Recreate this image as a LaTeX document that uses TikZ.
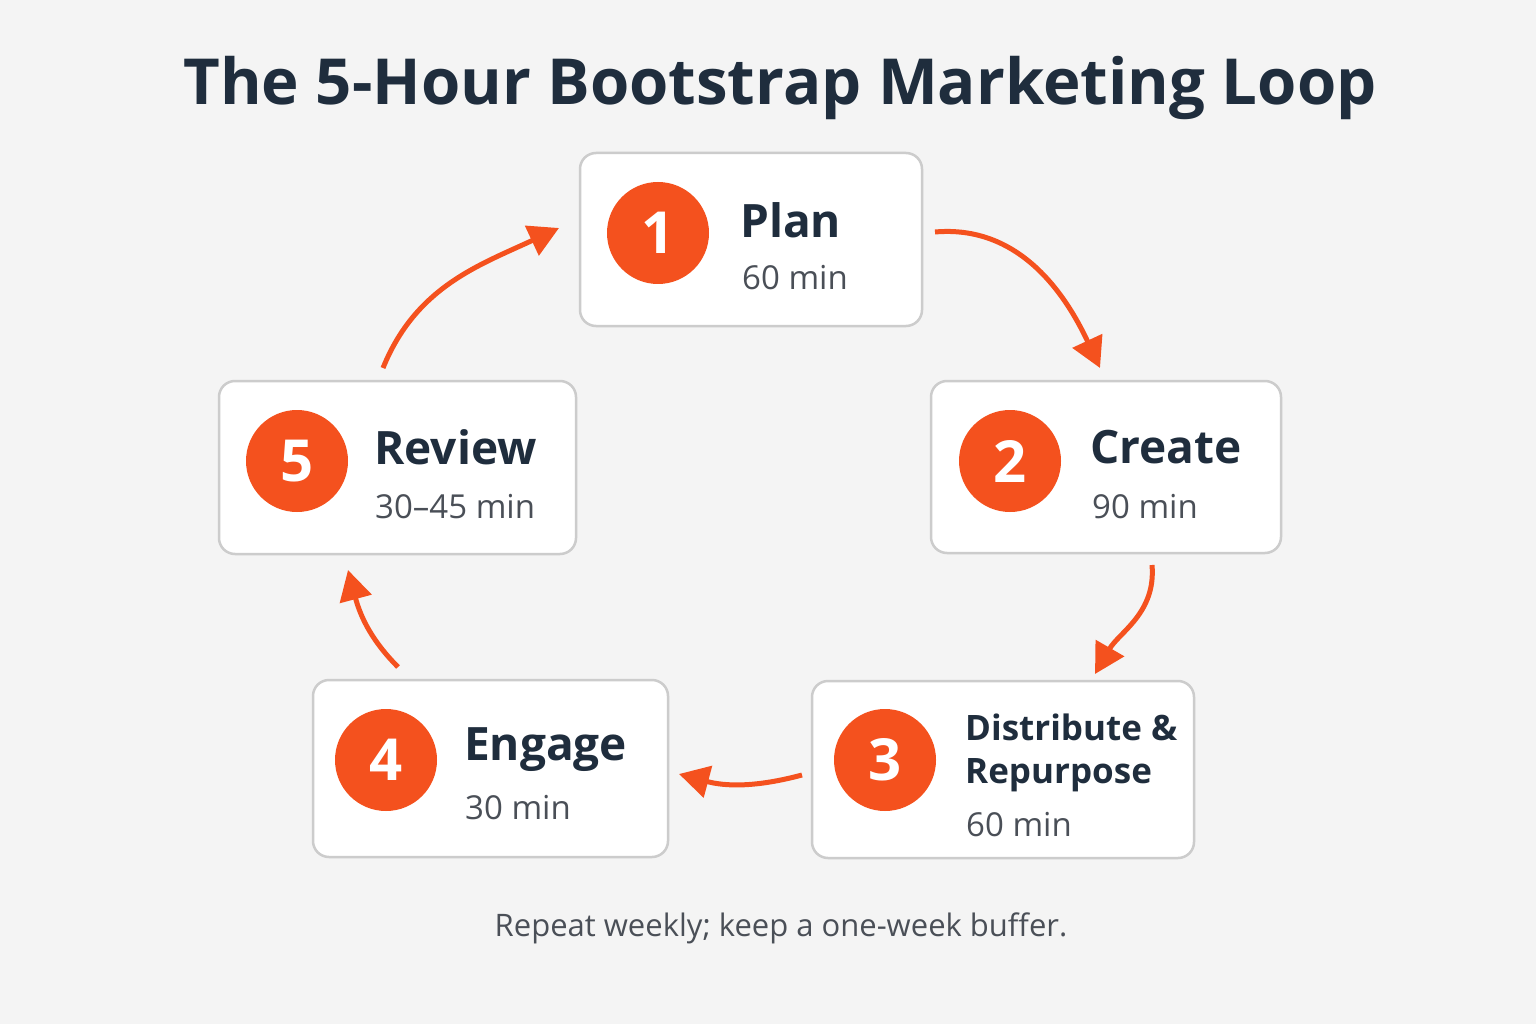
\documentclass[tikz,border=0pt]{standalone}
\usepackage{fontspec}
\setmainfont{Open Sans}
\usetikzlibrary{arrows.meta}
\definecolor{bg}{HTML}{F4F4F4}
\definecolor{ink}{HTML}{1F2D3D}
\definecolor{sub}{HTML}{4A4F57}
\definecolor{org}{HTML}{F4511E}
\definecolor{bord}{HTML}{CCCCCC}
\tikzset{
 card/.style={draw=bord,line width=2.5pt,fill=white,rounded corners=16pt},
 badge/.style={circle,fill=org,minimum size=102pt,inner sep=0pt,text=white,font=\fontsize{58}{60}\selectfont\bfseries},
 head/.style={anchor=west,text=ink,font=\fontsize{46}{50}\selectfont\bfseries,inner sep=0pt},
 head2/.style={anchor=west,text=ink,font=\fontsize{35}{40}\selectfont\bfseries,inner sep=0pt},
 mins/.style={anchor=west,text=sub,font=\fontsize{33}{36}\selectfont,inner sep=0pt},
 flow/.style={draw=org,line width=5pt,-{Triangle[length=30pt,width=32pt]}},
}
\begin{document}
\begin{tikzpicture}[x=1pt,y=-1pt]
\fill[bg] (0,0) rectangle (1536,1024);
\useasboundingbox (0,0) rectangle (1536,1024);
\node[text=ink,font=\fontsize{63.5}{66}\selectfont\bfseries] (title) at (780,88) {The 5-Hour Bootstrap Marketing Loop};
% cards
\draw[card] (580,153) rectangle (922,326);
\draw[card] (931,381) rectangle (1281,553);
\draw[card] (812,681) rectangle (1194,858);
\draw[card] (313,680) rectangle (668,857);
\draw[card] (219,381) rectangle (576,554);
\node[badge] (b1) at (658,233) {1};
\node[badge] (b2) at (1010,461) {2};
\node[badge] (b3) at (885,760) {3};
\node[badge] (b4) at (386,760) {4};
\node[badge] (b5) at (297,461) {5};
\node[head] (h1) at (740,220) {Plan};
\node[mins] (m1) at (742,278) {60 min};
\node[head] (h2) at (1090,447) {Create};
\node[mins] (m2) at (1092,507) {90 min};
\node[head2] (h3a) at (965,727) {Distribute \&};
\node[head2] (h3b) at (965,775) {Repurpose};
\node[mins] (m3) at (966,825) {60 min};
\node[head] (h4) at (464,750) {Engage};
\node[mins] (m4) at (465,808) {30 min};
\node[head] (h5) at (374,447) {Review};
\node[mins] (m5) at (375,507) {30–45 min};
\node[text=sub,font=\fontsize{31}{34}\selectfont] (cap) at (781,928) {Repeat weekly; keep a one-week buffer.};
% arrows
\coordinate (a1s) at (935,232); \coordinate (a1e) at (1100,368);
\coordinate (a2s) at (1152,565); \coordinate (a2e) at (1095,674);
\coordinate (a3s) at (802,775); \coordinate (a3e) at (679,774);
\coordinate (a4s) at (398,667); \coordinate (a4e) at (348,570);
\coordinate (a5s) at (383,368); \coordinate (a5e) at (559,228);
\draw[flow] (a1s) to[out=5,in=115] (a1e);
\draw[flow] (a2s) to[out=-85,in=60] (a2e);
\draw[flow] (a3s) to[out=195,in=-15] (a3e);
\draw[flow] (a4s) to[out=135,in=-75] (a4e);
\draw[flow] (a5s) to[out=68,in=205] (a5e);
\end{tikzpicture}
\end{document}
